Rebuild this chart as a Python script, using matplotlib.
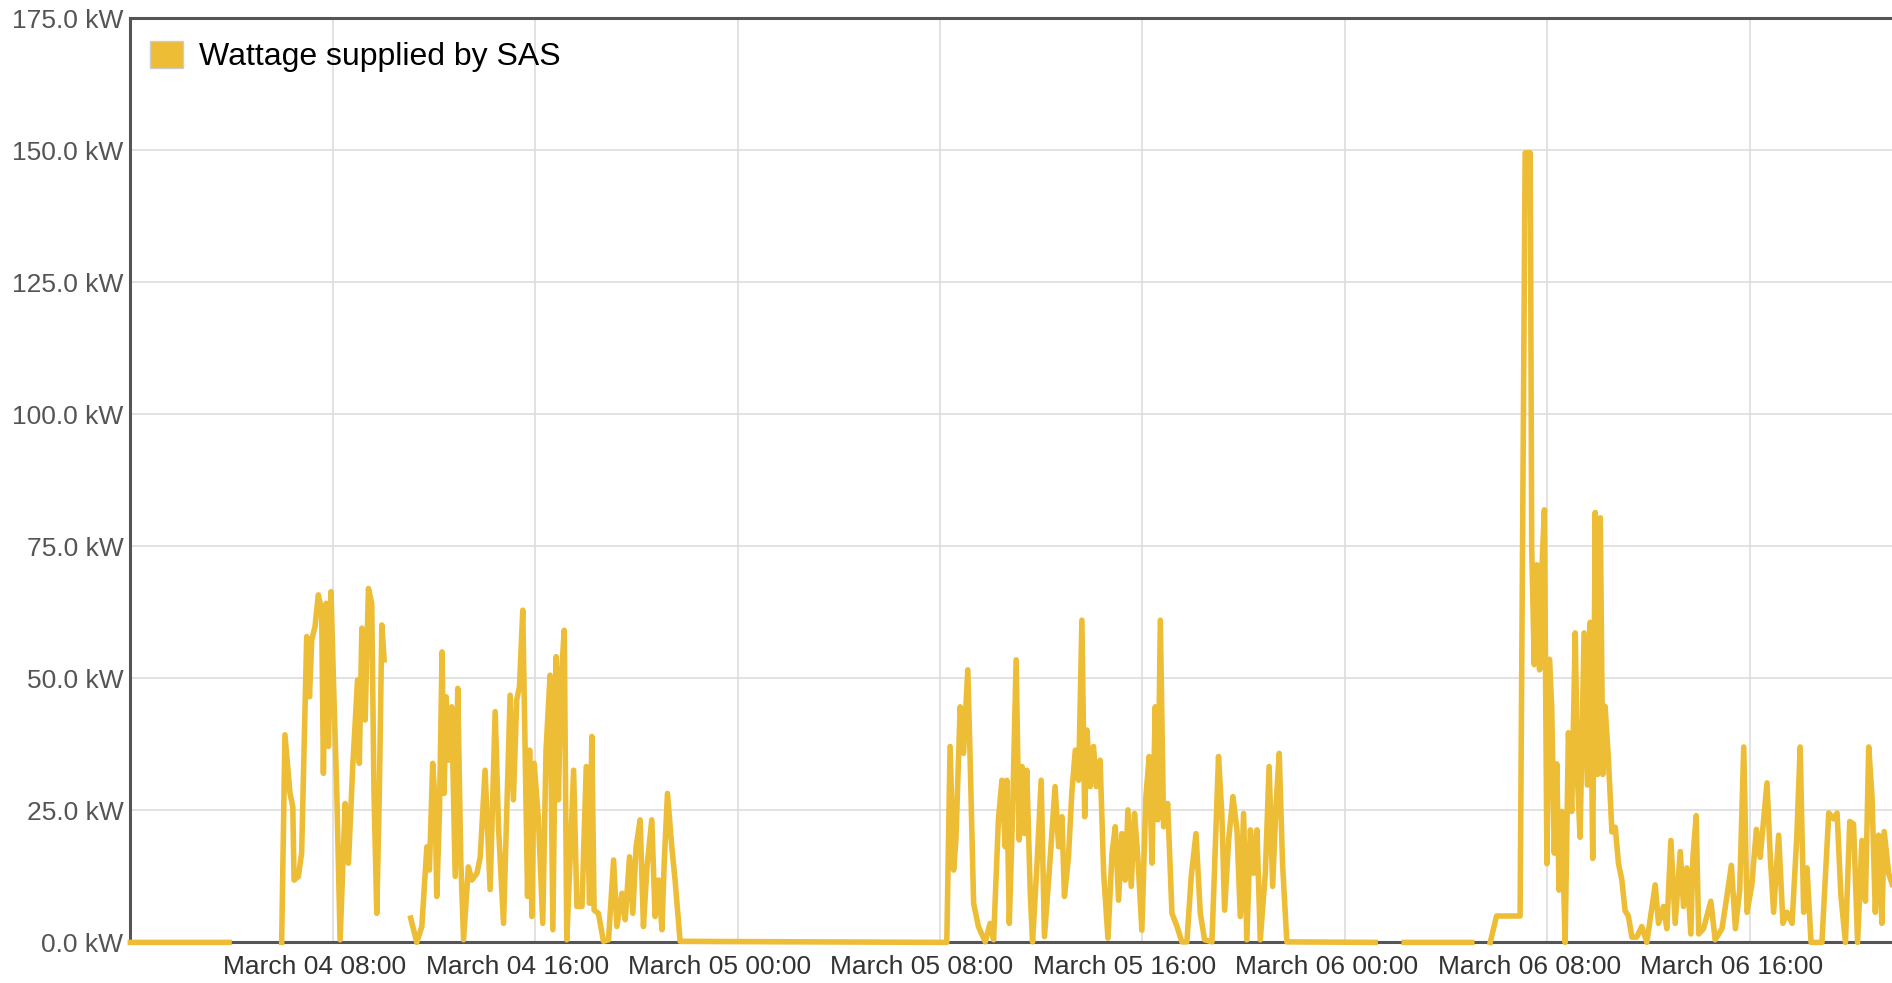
import matplotlib
matplotlib.use("Agg")
import matplotlib.pyplot as plt
from matplotlib.patches import Patch
from matplotlib.transforms import ScaledTranslation
import numpy as np

nan = float("nan")

# hours since March 04 00:00 and supplied power (kW); nan marks gaps in the data
hours = [
    0.0, 3.9, nan,
    5.98, 6.11, 6.31, 6.42, 6.47, 6.64, 6.77, 6.97, 7.08, 7.17, 7.30, 7.43, 7.56, 7.63, 7.74, 7.83,
    7.93, 8.05, 8.16, 8.29, 8.49, 8.62, 8.79, 8.98, 9.05, 9.15, 9.28, 9.41, 9.54, 9.63, 9.74, 9.84,
    9.94, 10.03, nan,
    11.08, 11.32, 11.52, 11.72, 11.82, 11.95, 12.05, 12.11, 12.22, 12.32, 12.40, 12.48, 12.57, 12.70,
    12.84, 12.94, 13.06, 13.17, 13.36, 13.50, 13.70, 13.83, 14.02, 14.22, 14.42, 14.55, 14.75, 14.88,
    15.01, 15.14, 15.27, 15.38, 15.51, 15.60, 15.70, 15.78, 15.87, 15.96, 16.13, 16.30, 16.43, 16.59,
    16.70, 16.83, 16.92, 17.01, 17.15, 17.25, 17.38, 17.52, 17.65, 17.85, 18.02, 18.15, 18.24, 18.33,
    18.50, 18.70, 18.90, 19.10, 19.23, 19.43, 19.56, 19.73, 19.86, 19.99, 20.15, 20.28, 20.42, 20.61,
    20.74, 20.88, 21.01, 21.10, 21.23, 21.40, 21.53, 21.73,
    32.27, 32.40, 32.54, 32.63, 32.80, 32.93, 33.10, 33.19, 33.33, 33.52, 33.79, 33.98, 34.12, 34.31,
    34.45, 34.58, 34.64, 34.74, 34.87, 35.01, 35.13, 35.24, 35.34, 35.43, 35.57, 35.66, 35.83, 36.00,
    36.13, 36.36, 36.55, 36.69, 36.82, 36.92, 37.08, 37.21, 37.35, 37.48, 37.61, 37.72, 37.81, 37.94,
    38.07, 38.18, 38.33, 38.47, 38.64, 38.80, 38.93, 39.06, 39.19, 39.32, 39.43, 39.56, 39.69, 39.82,
    39.98, 40.14, 40.27, 40.38, 40.51, 40.61, 40.71, 40.84, 41.00, 41.17, 41.37, 41.56, 41.76, 41.93,
    42.12, 42.29, 42.46, 42.75, 43.01, 43.14, 43.25, 43.41, 43.58, 43.74, 43.87, 44.00, 44.13, 44.27,
    44.40, 44.53, 44.66, 44.86, 45.01, 45.15, 45.28, 45.41, 45.54, 45.71, 49.2, nan,
    50.35, 53.02, nan,
    53.75, 54.0, 54.93, 55.13, 55.33, 55.39, 55.49, 55.59, 55.70, 55.79, 55.89, 55.99, 56.09, 56.18,
    56.28, 56.38, 56.47, 56.58, 56.71, 56.84, 56.97, 57.11, 57.21, 57.30, 57.46, 57.59, 57.70, 57.80,
    57.90, 57.99, 58.10, 58.20, 58.29, 58.42, 58.56, 58.69, 58.82, 58.95, 59.08, 59.21, 59.35, 59.54,
    59.74, 59.94, 60.27, 60.40, 60.60, 60.73, 60.89, 61.06, 61.26, 61.39, 61.52, 61.68, 61.76, 61.89,
    61.99, 62.18, 62.47, 62.64, 62.91, 63.11, 63.28, 63.44, 63.61, 63.77, 63.90, 64.09, 64.27, 64.42,
    64.69, 64.82, 64.95, 65.15, 65.32, 65.48, 65.68, 65.87, 66.00, 66.14, 66.27, 66.43, 66.86, 67.13,
    67.32, 67.46, 67.61, 67.79, 67.96, 68.11, 68.27, 68.44, 68.58, 68.71, 68.84, 68.97, 69.10, 69.23,
    69.32, 69.50, 69.64,
]

kw = [
    0.0, 0.0, nan,
    0.0, 39.3, 28.2, 25.7, 11.8, 12.5, 16.9, 57.9, 46.5, 57.3, 59.8, 65.8, 62.9, 32.0, 64.2, 37.1,
    66.4, 45.9, 28.2, 0.5, 26.3, 15.0, 33.3, 49.7, 33.9, 59.5, 42.1, 67.0, 64.2, 28.2, 5.5, 28.2,
    60.1, 53.5, nan,
    4.6, 0.0, 3.0, 18.1, 13.7, 33.9, 26.3, 8.7, 25.1, 55.0, 28.2, 46.5, 34.5, 44.6,
    12.5, 48.1, 15.6, 0.5, 14.3, 11.8, 13.1, 16.2, 32.6, 10.0, 43.7, 21.9, 3.6, 25.1,
    46.8, 27.0, 45.9, 48.4, 62.9, 37.1, 8.7, 36.4, 4.9, 33.9, 23.2, 3.6, 36.4, 50.6,
    2.4, 54.1, 27.0, 48.4, 59.1, 0.5, 15.6, 32.6, 6.8, 6.8, 33.3, 7.4, 39.0, 6.1,
    5.5, 0.2, 0.5, 15.6, 3.0, 9.3, 4.3, 16.2, 5.5, 18.1, 23.2, 3.0, 14.3, 23.2,
    4.9, 11.8, 2.4, 15.0, 28.2, 18.1, 11.8, 0.2,
    0.0, 37.1, 13.7, 19.4, 44.6, 35.8, 51.6, 35.2, 7.4, 3.0, 0.1, 3.6, 0.5, 23.2,
    30.7, 18.1, 30.7, 3.6, 24.4, 53.5, 19.4, 33.3, 20.6, 32.6, 9.3, 0.1, 14.3, 30.7,
    1.1, 16.2, 29.5, 18.1, 23.8, 8.7, 16.2, 28.2, 36.4, 30.7, 61.0, 23.8, 40.2, 29.5,
    37.1, 29.5, 34.5, 13.1, 0.8, 16.9, 21.9, 8.0, 20.6, 11.8, 25.1, 10.6, 24.4, 16.2,
    2.3, 27.6, 35.2, 15.0, 44.6, 23.2, 61.0, 21.9, 26.3, 5.5, 3.0, 0.1, 0.1, 12.4,
    20.6, 5.5, 0.5, 0.1, 35.2, 24.4, 6.1, 19.4, 27.6, 21.3, 4.9, 24.4, 0.5, 21.3,
    13.1, 21.3, 0.5, 13.1, 33.3, 10.6, 25.7, 35.8, 15.0, 0.1, 0.0, nan,
    0.0, 0.0, nan,
    0.0, 5.0, 5.0, 149.5, 149.5, 74.5, 52.6, 71.5, 51.6, 70.5, 81.9, 14.9, 53.6, 44.7,
    16.9, 33.8, 9.9, 24.8, 0.0, 39.7, 24.8, 58.6, 29.8, 19.9, 58.6, 29.8, 60.6, 15.9,
    81.4, 31.8, 80.4, 31.8, 44.7, 34.8, 20.9, 21.8, 14.9, 11.9, 6.0, 5.0, 1.0, 1.0,
    3.0, 0.0, 10.9, 3.6, 6.8, 2.6, 19.3, 3.6, 17.2, 6.8, 14.1, 1.6, 16.1, 24.0,
    1.6, 2.6, 7.8, 0.5, 2.6, 8.9, 14.6, 2.6, 9.9, 37.0, 5.7, 10.9, 21.4, 16.1,
    30.2, 16.1, 5.7, 20.3, 3.6, 5.7, 3.6, 20.3, 37.0, 5.7, 14.1, 0.0, 0.0, 24.5,
    23.4, 24.5, 8.9, 0.0, 22.9, 22.4, 0.0, 19.3, 7.8, 37.0, 27.6, 5.7, 20.3, 3.6,
    21.0, 13.0, 11.0,
]

tick_hours = [8, 16, 24, 32, 40, 48, 56, 64]
tick_labels = ["March 04 08:00", "March 04 16:00", "March 05 00:00", "March 05 08:00",
               "March 05 16:00", "March 06 00:00", "March 06 08:00", "March 06 16:00"]
y_ticks = [0, 25, 50, 75, 100, 125, 150, 175]

LINE_COLOR = "#EDBD36"

plt.rcParams["font.family"] = ["Liberation Sans", "DejaVu Sans"]

fig = plt.figure(figsize=(18.92, 9.83), dpi=100)
ax = fig.add_axes([0.0689, 0.0413, 0.9311, 0.9403])

ax.plot(hours, kw, color=LINE_COLOR, linewidth=4.0, solid_joinstyle="round",
        zorder=3, clip_on=False)

ax.set_xlim(0, 69.63)
ax.set_ylim(0, 175)

ax.set_yticks(y_ticks)
ax.set_yticklabels([f"{v:.1f} kW" for v in y_ticks])
ax.set_xticks(tick_hours)
ax.set_xticklabels(tick_labels)

ax.tick_params(axis="y", length=0, pad=5, labelsize=19, labelcolor="#555555")
ax.tick_params(axis="x", length=0, pad=9, labelsize=19, labelcolor="#333333")

# labels sit a little left of their gridlines in the original
for lbl in ax.get_xticklabels():
    lbl.set_transform(lbl.get_transform() + ScaledTranslation(-0.18, 0, fig.dpi_scale_trans))

ax.grid(color="#dddddd", linewidth=1.2, zorder=1)
ax.set_axisbelow(True)

for side in ["left", "bottom", "top"]:
    ax.spines[side].set_color("#555555")
    ax.spines[side].set_linewidth(2.2)
ax.spines["right"].set_visible(False)

handle = Patch(facecolor=LINE_COLOR, edgecolor="#cccccc", linewidth=1)
ax.legend([handle], ["Wattage supplied by SAS"], loc="upper left",
          bbox_to_anchor=(0.011, 0.975), frameon=False, fontsize=23,
          handlelength=1.05, handleheight=0.9, handletextpad=0.5,
          borderpad=0, borderaxespad=0)

fig.savefig("out.png", dpi=100)
